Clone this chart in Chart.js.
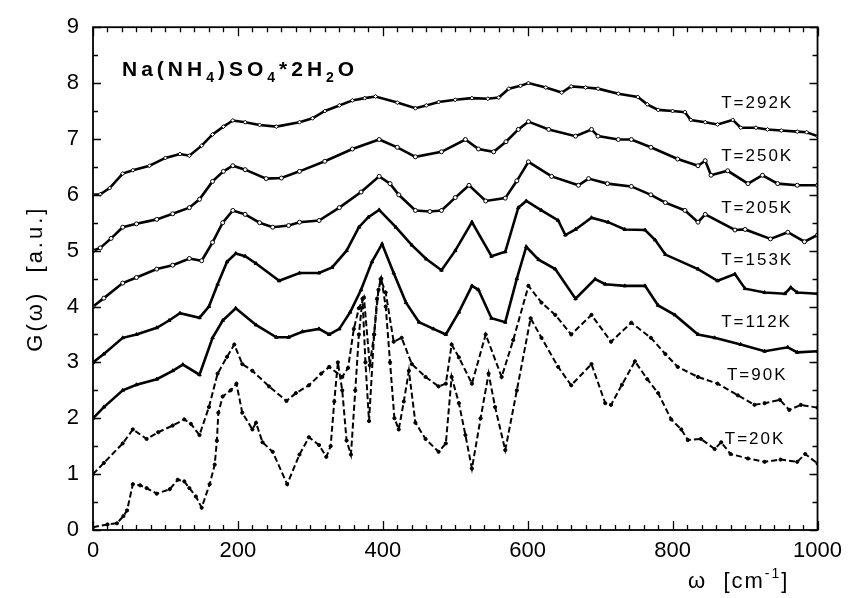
<!DOCTYPE html>
<html><head><meta charset="utf-8">
<script src="https://cdn.jsdelivr.net/npm/chart.js@4/dist/chart.umd.min.js"></script>
<style>html,body{margin:0;padding:0;background:#fff;} canvas{display:block;}</style>
</head><body>
<canvas id="c" width="850" height="598" style="width:850px;height:598px"></canvas>
<script>
// ---- data (omega [cm^-1], G(omega) [a.u.]) ----
const s292 = [[0,6.0],[10,6.01],[23,6.12],[41,6.38],[55,6.44],[78,6.52],[100,6.66],[120,6.73],[133,6.70],[150,6.88],[165,7.08],[180,7.22],[193,7.33],[210,7.30],[230,7.25],[253,7.22],[285,7.30],[303,7.37],[320,7.50],[340,7.60],[358,7.69],[375,7.73],[390,7.76],[420,7.65],[445,7.55],[460,7.60],[477,7.66],[500,7.70],[523,7.73],[545,7.72],[560,7.74],[574,7.90],[590,7.95],[601,8.00],[625,7.92],[647,7.83],[660,7.94],[680,7.92],[697,7.90],[725,7.81],[752,7.75],[765,7.62],[780,7.52],[800,7.50],[817,7.48],[825,7.34],[845,7.30],[862,7.26],[883,7.34],[894,7.20],[915,7.20],[931,7.17],[950,7.15],[972,7.13],[985,7.12],[1000,7.05]];
const s250 = [[0,5.0],[10,5.05],[25,5.22],[41,5.42],[60,5.48],[88,5.56],[110,5.66],[133,5.77],[147,5.92],[165,6.24],[180,6.42],[193,6.52],[210,6.45],[239,6.29],[260,6.30],[285,6.42],[320,6.60],[358,6.82],[395,6.99],[420,6.85],[445,6.68],[481,6.77],[514,6.99],[532,6.82],[553,6.77],[570,6.95],[587,7.17],[601,7.31],[629,7.17],[666,7.05],[688,7.17],[697,7.05],[725,6.99],[743,6.99],[770,6.85],[807,6.64],[835,6.52],[845,6.61],[853,6.35],[876,6.43],[904,6.20],[924,6.35],[945,6.20],[972,6.17],[1000,6.17]];
const s205 = [[0,4.0],[15,4.15],[41,4.42],[60,4.52],[88,4.67],[110,4.74],[133,4.86],[150,4.82],[165,5.15],[179,5.5],[193,5.72],[210,5.65],[230,5.5],[248,5.42],[270,5.45],[285,5.51],[312,5.54],[340,5.77],[370,6.05],[395,6.33],[410,6.2],[422,6.0],[445,5.72],[465,5.7],[481,5.72],[500,5.95],[519,6.17],[542,5.89],[569,5.94],[585,6.25],[601,6.59],[633,6.33],[670,6.17],[684,6.29],[710,6.2],[743,6.15],[770,6.0],[790,5.86],[817,5.72],[835,5.51],[845,5.65],[886,5.37],[900,5.38],[935,5.21],[959,5.33],[982,5.16],[1000,5.28]];
const s153 = [[0,3.0],[15,3.15],[41,3.44],[60,3.5],[88,3.62],[105,3.75],[120,3.88],[147,3.8],[160,4.0],[172,4.4],[185,4.8],[197,4.95],[210,4.9],[225,4.77],[257,4.46],[285,4.6],[312,4.6],[330,4.7],[350,5.0],[367,5.42],[380,5.6],[395,5.73],[418,5.42],[440,5.1],[460,4.85],[481,4.65],[500,5.0],[523,5.51],[550,4.9],[569,4.98],[587,5.77],[598,5.89],[619,5.72],[642,5.54],[652,5.28],[666,5.38],[688,5.59],[711,5.51],[734,5.38],[762,5.37],[776,5.19],[790,4.93],[835,4.67],[862,4.46],[886,4.58],[900,4.32],[927,4.25],[955,4.23],[963,4.34],[972,4.25],[1000,4.23]];
const s112 = [[0,2.0],[15,2.2],[41,2.5],[60,2.6],[88,2.7],[110,2.85],[124,2.96],[147,2.78],[165,3.44],[179,3.75],[197,3.97],[225,3.67],[253,3.45],[270,3.45],[289,3.55],[312,3.6],[326,3.5],[340,3.6],[355,3.9],[370,4.3],[385,4.8],[399,5.12],[415,4.6],[432,4.07],[450,3.72],[470,3.6],[487,3.5],[505,3.9],[523,4.37],[532,4.3],[550,3.79],[569,3.72],[585,4.5],[598,5.07],[615,4.84],[638,4.67],[666,4.14],[693,4.49],[707,4.4],[734,4.37],[762,4.37],[780,4.02],[803,3.85],[835,3.5],[858,3.44],[894,3.32],[927,3.2],[959,3.27],[972,3.18],[1000,3.2]];
const s90 = [[0,1.0],[15,1.2],[41,1.55],[55,1.8],[74,1.63],[90,1.75],[110,1.87],[126,1.98],[135,1.9],[147,1.7],[160,2.2],[172,2.8],[185,3.1],[195,3.32],[206,2.97],[220,2.85],[243,2.57],[267,2.31],[280,2.45],[298,2.59],[315,2.8],[326,2.92],[344,2.74],[352,2.9],[360,3.6],[367,3.97],[374,4.16],[382,2.95],[388,3.5],[392,4.14],[397,4.49],[404,4.25],[415,3.37],[426,3.44],[440,2.97],[459,2.74],[477,2.57],[487,2.62],[495,3.32],[505,3.09],[523,2.62],[542,3.5],[564,2.74],[580,3.4],[601,4.37],[619,4.07],[638,3.85],[660,3.5],[688,3.85],[715,3.37],[743,3.71],[770,3.44],[790,3.15],[807,2.92],[835,2.74],[862,2.62],[890,2.41],[913,2.24],[927,2.27],[948,2.33],[961,2.15],[977,2.24],[1000,2.19]];
const s20 = [[0,0.05],[20,0.1],[33,0.12],[42,0.25],[47,0.35],[55,0.82],[65,0.8],[74,0.75],[88,0.65],[106,0.73],[117,0.9],[126,0.87],[133,0.75],[142,0.6],[150,0.4],[161,0.82],[168,1.17],[171,1.6],[173,2.1],[179,2.39],[190,2.5],[198,2.62],[206,2.1],[220,1.8],[225,1.92],[234,1.57],[248,1.4],[268,0.82],[285,1.35],[298,1.66],[312,1.52],[322,1.31],[328,1.5],[333,2.3],[338,3.0],[344,2.5],[350,1.6],[356,1.35],[362,2.5],[367,3.5],[372,4.14],[376,3.0],[381,1.95],[388,3.5],[394,4.3],[398,4.5],[404,4.0],[410,3.0],[416,2.0],[422,1.8],[429,2.3],[436,2.85],[445,1.92],[459,1.63],[477,1.4],[487,1.55],[495,2.74],[505,2.27],[514,1.7],[523,1.1],[535,2.0],[546,2.8],[555,2.2],[569,1.43],[585,2.5],[604,3.79],[619,3.44],[642,2.92],[660,2.59],[688,2.97],[707,2.27],[715,2.24],[730,2.6],[748,3.02],[765,2.7],[780,2.45],[798,1.98],[812,1.8],[821,1.61],[839,1.63],[858,1.45],[867,1.57],[880,1.36],[904,1.28],[927,1.22],[949,1.26],[972,1.22],[983,1.36],[1000,1.19]];

const seriesNames = ['T=292K','T=250K','T=205K','T=153K','T=112K','T=90K','T=20K'];
const seriesData = [s292, s250, s205, s153, s112, s90, s20];
const labelX = [867, 867, 867, 867, 867, 875, 872];
const labelY = [7.64, 6.68, 5.75, 4.83, 3.71, 2.76, 1.63];
const xTicks = [0, 200, 400, 600, 800, 1000];
const yTicks = [0, 1, 2, 3, 4, 5, 6, 7, 8, 9];

// ---- styles ----
const FONT = "'Liberation Sans', Arial, Helvetica, sans-serif";
const pStyles = ['rectRot','circle','circle','triangle','triangle','circle','circle'];
const dashes = [[],[],[],[],[],[6,3],[6,3]];
const widths = [2.6,2.6,2.6,2.6,2.6,2.0,2.0];

const datasets = seriesData.map((s, i) => ({
  label: seriesNames[i],
  data: s.map(p => ({x: p[0], y: p[1]})),
  borderColor: '#000',
  backgroundColor: i < 3 ? '#fff' : '#000',
  pointBorderColor: '#000',
  pointBorderWidth: 1,
  borderWidth: widths[i],
  borderDash: dashes[i],
  pointStyle: pStyles[i],
  pointRadius: i < 5 ? 2 : 1.6,
  showLine: true,
  tension: 0,
  fill: false
}));

function drawRich(ctx, parts, x, y, size, bold, spacing) {
  let cx = x;
  for (const p of parts) {
    const fs = p.sub || p.sup ? Math.round(size * 0.65) : size;
    ctx.font = (bold ? 'bold ' : '') + fs + 'px ' + FONT;
    ctx.letterSpacing = spacing + 'px';
    const dy = p.sub ? size * 0.3 : (p.sup ? -size * 0.45 : 0);
    ctx.fillText(p.t, cx, y + dy);
    cx += ctx.measureText(p.t).width;
  }
  ctx.letterSpacing = '0px';
}

const decor = {
  id: 'decor',
  afterDraw(chart) {
    const {ctx, chartArea: a, scales: {x, y}} = chart;
    ctx.save();
    ctx.strokeStyle = '#000';
    ctx.fillStyle = '#000';
    ctx.lineWidth = 1.8;
    ctx.strokeRect(a.left, a.top, a.right - a.left, a.bottom - a.top);
    ctx.lineWidth = 1.3;
    ctx.beginPath();
    for (let v = 0; v <= 1000; v += 20) {
      const p = Math.round(x.getPixelForValue(v)) + 0.5;
      const L = v % 200 === 0 ? 9 : 5;
      ctx.moveTo(p, a.bottom); ctx.lineTo(p, a.bottom - L);
      ctx.moveTo(p, a.top); ctx.lineTo(p, a.top + L);
    }
    for (let v = 0; v <= 9; v += 0.5) {
      const p = Math.round(y.getPixelForValue(v)) + 0.5;
      const L = v % 1 === 0 ? 8 : 5;
      ctx.moveTo(a.left, p); ctx.lineTo(a.left + L, p);
      ctx.moveTo(a.right, p); ctx.lineTo(a.right - L, p);
    }
    ctx.stroke();

    // series labels
    ctx.textBaseline = 'middle';
    ctx.textAlign = 'left';
    ctx.font = '17px ' + FONT;
    ctx.letterSpacing = '2px';
    seriesNames.forEach((t, i) => {
      ctx.fillText(t, x.getPixelForValue(labelX[i]), y.getPixelForValue(labelY[i]));
    });
    ctx.letterSpacing = '0px';

    // compound title
    ctx.textBaseline = 'alphabetic';
    drawRich(ctx, [{t:'Na(NH'},{t:'4',sub:true},{t:')SO'},{t:'4',sub:true},{t:'*2H'},{t:'2',sub:true},{t:'O'}],
      x.getPixelForValue(40), y.getPixelForValue(8.13), 21, true, 4);

    // x axis title
    drawRich(ctx, [{t:'\u03C9  [cm'},{t:'-1',sup:true},{t:']'}], 688, 588, 22, false, 2);

    // y axis title
    ctx.save();
    ctx.translate(42, (a.top + a.bottom) / 2);
    ctx.rotate(-Math.PI / 2);
    ctx.textAlign = 'center';
    ctx.font = '22px ' + FONT;
    ctx.letterSpacing = '3px';
    ctx.fillText('G(\u03C9)  [a.u.]', 0, 0);
    ctx.restore();
    ctx.restore();
  }
};

new Chart(document.getElementById('c'), {
  type: 'line',
  data: { datasets },
  options: {
    responsive: false,
    animation: false,
    events: [],
    layout: { padding: { top: 15, right: 30, left: 0, bottom: 0 } },
    scales: {
      x: {
        type: 'linear', min: 0, max: 1000,
        afterBuildTicks: s => { s.ticks = xTicks.map(v => ({value: v})); },
        ticks: { color: '#000', font: { family: FONT, size: 22 }, padding: 8, maxRotation: 0, autoSkip: false, callback: v => String(v) },
        grid: { display: false, drawTicks: false },
        border: { display: false },
        afterFit: s => { s.height = 68; }
      },
      y: {
        type: 'linear', min: 0, max: 9,
        afterBuildTicks: s => { s.ticks = yTicks.map(v => ({value: v})); },
        ticks: { color: '#000', font: { family: FONT, size: 22 }, padding: 14, autoSkip: false, callback: v => String(v) },
        grid: { display: false, drawTicks: false },
        border: { display: false },
        afterFit: s => { s.width = 93; }
      }
    },
    plugins: { legend: { display: false }, tooltip: { enabled: false } }
  },
  plugins: [decor]
});
</script>
</body></html>
